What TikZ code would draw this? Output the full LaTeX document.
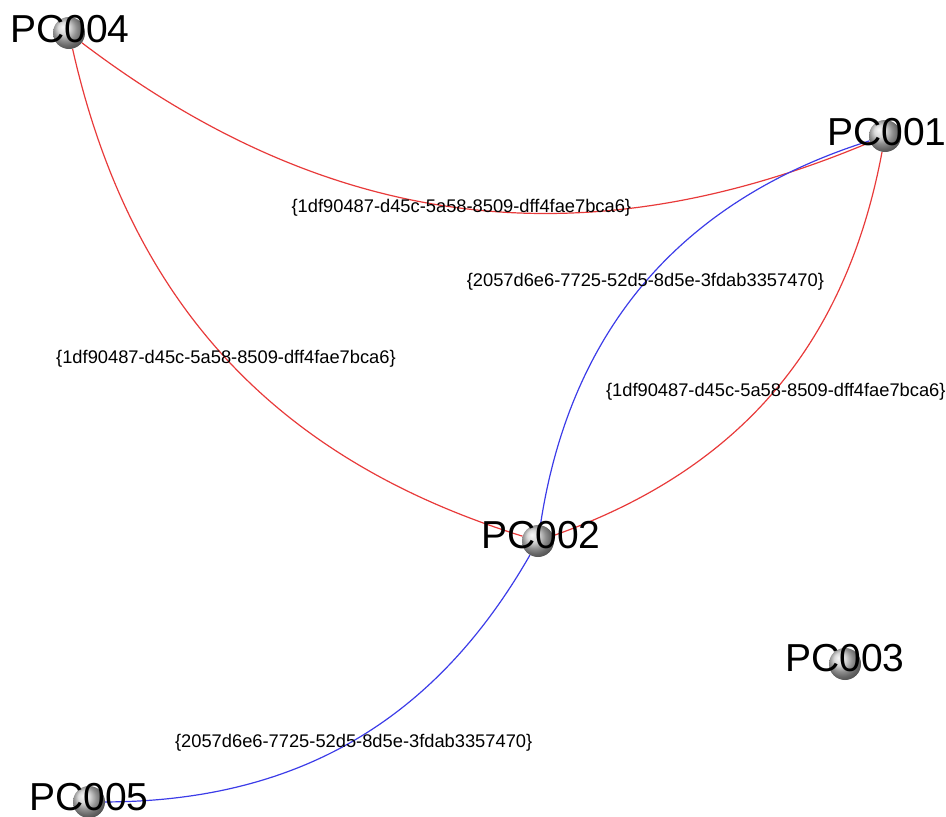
\documentclass[tikz,border=0pt]{standalone}
\usepackage{fontspec}
\setmainfont{Liberation Sans}
\usetikzlibrary{backgrounds}
\definecolor{linkred}{RGB}{232,58,58}
\definecolor{linkblue}{RGB}{60,60,232}
\tikzset{
  pcball/.style={circle, inner sep=0pt, minimum size=32pt, ball color=gray!40},
  pcname/.style={font=\fontsize{39}{39}\selectfont, inner sep=0pt},
  guid/.style={font=\fontsize{18.3}{20}\selectfont, inner sep=0pt},
  redlink/.style={draw=linkred, line width=1.2pt},
  bluelink/.style={draw=linkblue, line width=1.2pt}
}
\begin{document}
\begin{tikzpicture}[x=1pt,y=-1pt]
\useasboundingbox (0,0) rectangle (946,817);
% hosts
\node [pcball] (pc1) at (885,136) {};
\node [pcball] (pc2) at (538,541) {};
\node [pcball] (pc3) at (845,664) {};
\node [pcball] (pc4) at (69,33) {};
\node [pcball] (pc5) at (89,802) {};
\node [pcname] (name1) at (887,132) {PC001};
\node [pcname] (name2) at (541,535) {PC002};
\node [pcname] (name3) at (845,658) {PC003};
\node [pcname] (name4) at (70,29) {PC004};
\node [pcname] (name5) at (89,797) {PC005};
% links
\begin{scope}[on background layer]
\draw [redlink] (pc4) to[bend right=30] node[guid] {\{1df90487-d45c-5a58-8509-dff4fae7bca6\}} (pc1);
\draw [redlink] (pc4) to[bend right=30] node[guid] {\{1df90487-d45c-5a58-8509-dff4fae7bca6\}} (pc2);
\draw [redlink] (pc1) to[bend left=30] node[guid, xshift=2pt] {\{1df90487-d45c-5a58-8509-dff4fae7bca6\}} (pc2);
\draw [bluelink] (pc1) to[bend right=32] node[guid] {\{2057d6e6-7725-52d5-8d5e-3fdab3357470\}} (pc2);
\draw [bluelink] (pc2) to[bend left=30] node[guid, yshift=-2pt] {\{2057d6e6-7725-52d5-8d5e-3fdab3357470\}} (pc5);
\end{scope}
\end{tikzpicture}
\end{document}
